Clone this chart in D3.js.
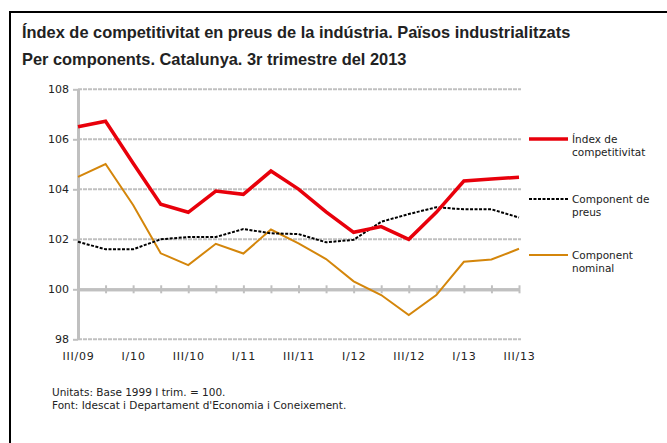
<!DOCTYPE html>
<html>
<head>
<meta charset="utf-8">
<script src="https://cdn.jsdelivr.net/npm/d3@7"></script>
<style>
  body { margin: 0; background: #fff; }
  svg text { font-family: "DejaVu Sans", Verdana, sans-serif; fill: #222; }
</style>
</head>
<body>
<div id="wrap"></div>
<script>
// 数据
const quarters = ["III/09","IV/09","I/10","II/10","III/10","IV/10","I/11","II/11","III/11",
  "IV/11","I/12","II/12","III/12","IV/12","I/13","II/13","III/13"];
const tickLabels = ["III/09","I/10","III/10","I/11","III/11","I/12","III/12","I/13","III/13"];
const yTicks = [98, 100, 102, 104, 106, 108];
const seriesNames = ["Índex de competitivitat", "Component de preus", "Component nominal"];
const indexValues = [106.50, 106.72, 105.04, 103.40, 103.08, 103.93, 103.80, 104.73, 104.01,
  103.10, 102.28, 102.51, 102.00, 103.08, 104.33, 104.41, 104.48];
const priceValues = [101.90, 101.60, 101.60, 102.00, 102.09, 102.09, 102.41, 102.24, 102.21,
  101.88, 101.98, 102.70, 103.01, 103.28, 103.20, 103.20, 102.87];
const nominalValues = [104.50, 105.01, 103.37, 101.44, 100.97, 101.82, 101.43, 102.39, 101.84,
  101.21, 100.32, 99.77, 98.97, 99.77, 101.10, 101.19, 101.62];

const WIDTH = 667, HEIGHT = 443;

const svg = d3.select('#wrap').append('svg')
  .attr('width', WIDTH)
  .attr('height', HEIGHT);

// 边框
svg.append('path')
  .attr('d', 'M10,' + HEIGHT + ' V12 H' + WIDTH)
  .attr('fill', 'none')
  .attr('stroke', '#000')
  .attr('stroke-width', 2);

// 标题
const titleFont = '"Liberation Sans", Arial, sans-serif';
svg.append('text')
  .attr('x', 22).attr('y', 38)
  .style('font-family', titleFont)
  .style('font-weight', 'bold').style('font-size', '16.4px')
  .text('Índex de competitivitat en preus de la indústria. Països industrialitzats');
svg.append('text')
  .attr('x', 22).attr('y', 65)
  .style('font-family', titleFont)
  .style('font-weight', 'bold').style('font-size', '16.4px')
  .text('Per components. Catalunya. 3r trimestre del 2013');

// 比例尺
const x = d3.scalePoint().domain(quarters).range([78, 519]);
const y = d3.scaleLinear().domain([98, 108]).range([339.3, 89.3]);

const gridColor = '#c0c0c0';

// 网格线
svg.append('g').selectAll('line')
  .data(yTicks.filter(d => d !== 100))
  .enter().append('line')
  .attr('x1', 78).attr('x2', 521)
  .attr('y1', d => y(d)).attr('y2', d => y(d))
  .attr('stroke', gridColor)
  .attr('stroke-width', 2)
  .attr('stroke-dasharray', '4,1');

// y轴
const yAxis = svg.append('g')
  .attr('transform', 'translate(78,0)')
  .call(d3.axisLeft(y).tickValues(yTicks).tickSize(5).tickPadding(4).tickSizeOuter(0));
yAxis.select('.domain').attr('stroke', gridColor).attr('stroke-width', 3);
yAxis.selectAll('.tick line').attr('stroke', gridColor).attr('stroke-width', 2);
yAxis.selectAll('text').style('font-size', '11px').attr('fill', '#222');

// x轴 (在100处)
const xAxisB = svg.append('g')
  .attr('transform', 'translate(0,' + y(100) + ')')
  .call(d3.axisBottom(x).tickSize(4).tickFormat('').tickSizeOuter(0));
const xAxisT = svg.append('g')
  .attr('transform', 'translate(0,' + y(100) + ')')
  .call(d3.axisTop(x).tickSize(4).tickFormat('').tickSizeOuter(0));
[xAxisB, xAxisT].forEach(g => {
  g.select('.domain').attr('stroke', gridColor).attr('stroke-width', 3);
  g.selectAll('.tick line').attr('stroke', gridColor).attr('stroke-width', 2);
});

// x轴标签
const xLab = svg.append('g')
  .attr('transform', 'translate(0,' + y(98) + ')')
  .call(d3.axisBottom(x).tickValues(tickLabels).tickSize(0).tickPadding(13));
xLab.select('.domain').remove();
xLab.selectAll('text').style('font-size', '11px').style('letter-spacing', '0.8px').attr('fill', '#222');

// 折线
const line = d3.line().x((d, i) => x(quarters[i])).y(d => y(d));
const styles = [
  { values: indexValues, color: '#e8000b', width: 3.5, dash: null },
  { values: priceValues, color: '#000', width: 2, dash: '3,1.5' },
  { values: nominalValues, color: '#d4860b', width: 2, dash: null }
];
// 绘制顺序：橙、黑、红
[2, 1, 0].forEach(k => {
  const s = styles[k];
  svg.append('path')
    .datum(s.values)
    .attr('d', line)
    .attr('fill', 'none')
    .attr('stroke', s.color)
    .attr('stroke-width', s.width)
    .attr('stroke-dasharray', s.dash)
    .attr('stroke-linejoin', 'miter');
});

// 图例
const legendY = [139, 199, 255];
const legendLines = [["Índex de", "competitivitat"], ["Component de", "preus"], ["Component", "nominal"]];
const legend = svg.append('g');
styles.forEach((s, i) => {
  legend.append('line')
    .attr('x1', 529).attr('x2', 568)
    .attr('y1', legendY[i]).attr('y2', legendY[i])
    .attr('stroke', s.color)
    .attr('stroke-width', s.width)
    .attr('stroke-dasharray', s.dash);
  const t = legend.append('text')
    .attr('x', 572).attr('y', legendY[i] + 4)
    .style('font-size', '10.5px');
  legendLines[i].forEach((l, j) => {
    t.append('tspan').attr('x', 572).attr('dy', j === 0 ? 0 : 13).text(l);
  });
});

// 注释
const note = svg.append('g')
  .style('font-family', '"Liberation Sans", Arial, sans-serif')
  .style('font-size', '10.5px');
note.append('text').attr('x', 52).attr('y', 396).text('Unitats: Base 1999 I trim. = 100.');
note.append('text').attr('x', 52).attr('y', 409).text("Font: Idescat i Departament d'Economia i Coneixement.");
</script>
</body>
</html>
